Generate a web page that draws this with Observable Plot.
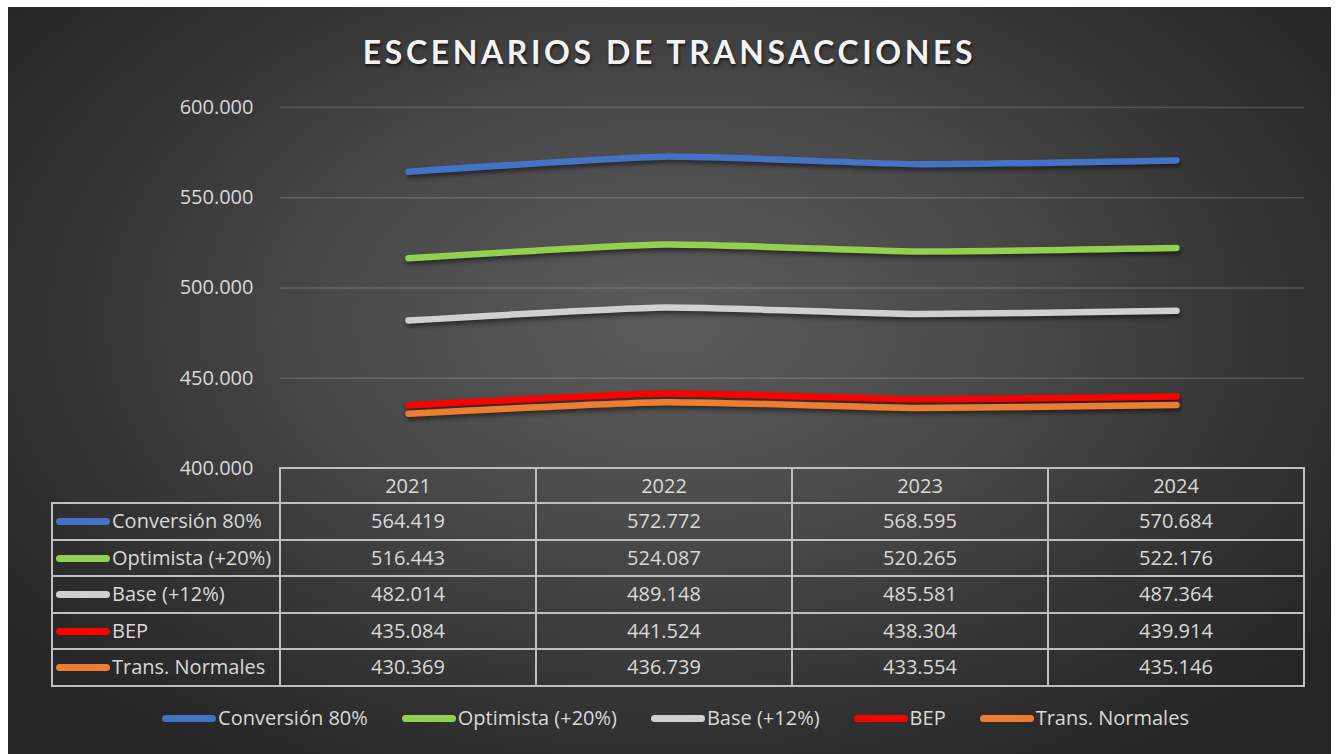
<!DOCTYPE html>
<html>
<head>
<meta charset="utf-8">
<script src="https://cdn.jsdelivr.net/npm/d3@7"></script>
<script src="https://cdn.jsdelivr.net/npm/@observablehq/plot@0.6"></script>
<style>
  body { margin: 0; background: #fff; font-family: "Open Sans", Lato, sans-serif; }
  #wrap { position: relative; width: 1337px; height: 754px; overflow: hidden; background: #fff; }
  #bg { position: absolute; left: 8px; top: 7px; width: 1323px; height: 747px;
        background: radial-gradient(ellipse 62% 70% at 50% 42%, #5b5b5b 0%, #4a4a4a 40%, #333 75%, #262626 100%); }
  #title { position: absolute; left: 8px; width: 1323px; top: 34px; text-align: center; font-family: Lato, sans-serif;
           font-weight: 700; font-size: 32px; line-height: 36px; letter-spacing: 3.6px; color: #f2f2f2;
           text-shadow: 1px 2px 3px rgba(0,0,0,0.65); }
  #chart { position: absolute; left: 0; top: 0; }
  #chart g[aria-label="line"] path { filter: drop-shadow(1px 3px 2px rgba(0,0,0,0.5)); }
  #tbl { position: absolute; left: 51px; top: 467px; border-collapse: collapse; color: #d9d9d9;
         font-size: 20px; table-layout: fixed; }
  #tbl td { border: 2px solid #bfbfbf; padding: 0; text-align: center; white-space: nowrap; line-height: 26px; }
  #tbl td.lab { text-align: left; padding-left: 3px; overflow: hidden; }
  #tbl td.empty { border-top: none; border-left: none; }
  .sw { display: inline-block; width: 54px; height: 7px; border-radius: 4px; vertical-align: middle; margin-right: 2px; position: relative; top: -1px; }
  #legend { position: absolute; left: 14px; width: 1323px; top: 704px; display: flex; justify-content: center;
            gap: 34px; color: #d9d9d9; font-size: 20px; line-height: 28px; white-space: nowrap; }
</style>
</head>
<body>
<div id="wrap">
  <div id="bg"></div>
  <div id="title">ESCENARIOS DE TRANSACCIONES</div>
  <div id="chart"></div>
  <table id="tbl"></table>
  <div id="legend"></div>
</div>
<script>
// ---- data ----
const years = ["2021", "2022", "2023", "2024"];
const seriesNames = ["Conversión 80%", "Optimista (+20%)", "Base (+12%)", "BEP", "Trans. Normales"];
const seriesColors = ["#4472C4", "#92D050", "#D0D0D0", "#FF0000", "#ED7D31"];
const conversion80 = [564419, 572772, 568595, 570684];
const optimista = [516443, 524087, 520265, 522176];
const base = [482014, 489148, 485581, 487364];
const bep = [435084, 441524, 438304, 439914];
const transNormales = [430369, 436739, 433554, 435146];
const yTicks = [400000, 450000, 500000, 550000, 600000];

const seriesValues = [conversion80, optimista, base, bep, transNormales];
const data = seriesNames.flatMap((s, i) => years.map((yr, j) => ({series: s, year: yr, value: seriesValues[i][j]})));

const fmt = d3.formatLocale({decimal: ",", thousands: ".", grouping: [3], currency: ["", ""]}).format(",d");

// ---- layout ----
const W = 1337, H = 754;
const plotLeft = 280, plotRight = 1304, plotTop = 107, plotBottom = 468;

const chart = Plot.plot({
  width: W, height: H,
  marginLeft: plotLeft, marginRight: W - plotRight, marginTop: plotTop, marginBottom: H - plotBottom,
  style: {background: "transparent", fontFamily: "'Open Sans', Lato, sans-serif", color: "#d9d9d9", overflow: "visible"},
  x: {type: "point", domain: years, padding: 0.5, axis: null},
  y: {domain: [400000, 600000], axis: null},
  color: {domain: seriesNames, range: seriesColors},
  marks: [
    Plot.ruleY(yTicks.slice(1), {stroke: "#ffffff", strokeOpacity: 0.16, strokeWidth: 1.5}),
    Plot.axisY({ticks: yTicks, tickSize: 0, tickPadding: 27, tickFormat: fmt, fill: "#d9d9d9", fontSize: 20, label: null}),
    Plot.line(data, {x: "year", y: "value", z: "series", stroke: "series", strokeWidth: 6.5,
      curve: "cardinal", tension: 0.5, strokeLinecap: "round", strokeLinejoin: "round"})
  ]
});
document.getElementById("chart").appendChild(chart);

// ---- data table ----
const step = (plotRight - plotLeft) / years.length;
const tbl = document.getElementById("tbl");
const colgroup = document.createElement("colgroup");
[plotLeft - 52, ...years.map(() => step)].forEach(w => {
  const c = document.createElement("col"); c.style.width = w + "px"; colgroup.appendChild(c);
});
tbl.appendChild(colgroup);
const hr = document.createElement("tr"); hr.style.height = "35px";
const e = document.createElement("td"); e.className = "empty"; hr.appendChild(e);
years.forEach(y => { const td = document.createElement("td"); td.textContent = y; hr.appendChild(td); });
tbl.appendChild(hr);
seriesNames.forEach((s, i) => {
  const tr = document.createElement("tr"); tr.style.height = "36.5px";
  const lab = document.createElement("td"); lab.className = "lab";
  lab.innerHTML = `<span class="sw" style="background:${seriesColors[i]}"></span>`;
  lab.appendChild(document.createTextNode(s));
  tr.appendChild(lab);
  seriesValues[i].forEach(v => { const td = document.createElement("td"); td.textContent = fmt(v); tr.appendChild(td); });
  tbl.appendChild(tr);
});

// ---- legend ----
const lg = document.getElementById("legend");
seriesNames.forEach((s, i) => {
  const it = document.createElement("div");
  it.innerHTML = `<span class="sw" style="background:${seriesColors[i]}"></span>`;
  it.appendChild(document.createTextNode(s));
  lg.appendChild(it);
});
</script>
</body>
</html>
